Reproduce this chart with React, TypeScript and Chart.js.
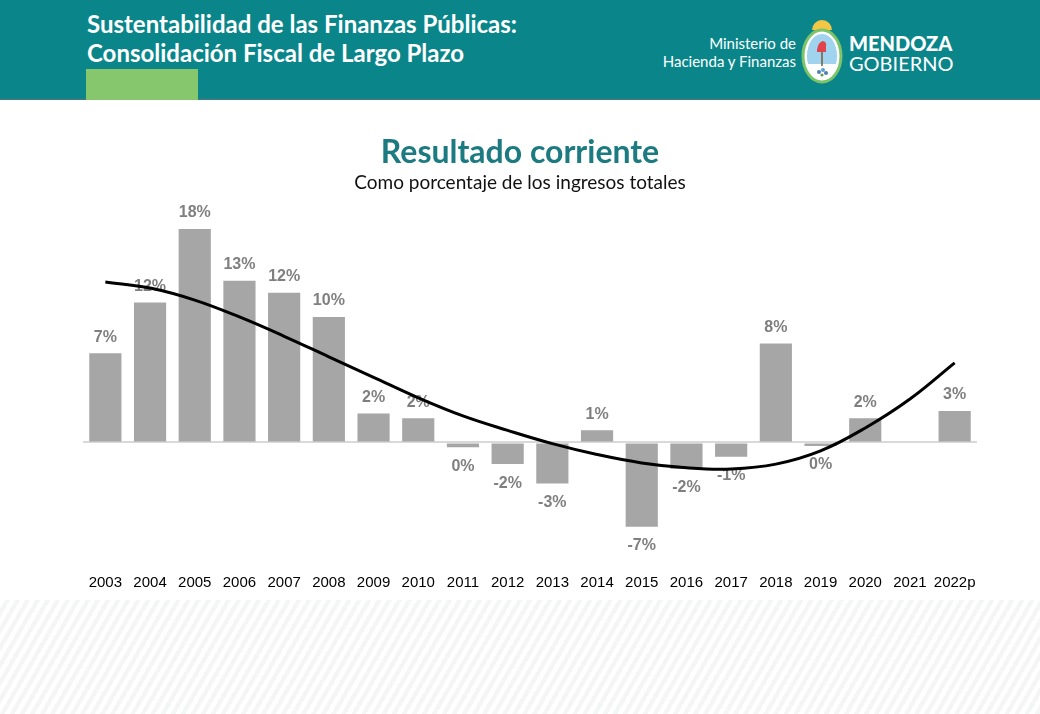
import React, { useEffect, useRef } from "react";
import { Chart, registerables } from "chart.js";

Chart.register(...registerables);

const years = ["2003","2004","2005","2006","2007","2008","2009","2010","2011","2012","2013","2014","2015","2016","2017","2018","2019","2020","2021","2022p"];
const resultado: (number | null)[] = [7.4, 11.6, 17.7, 13.4, 12.4, 10.4, 2.4, 2.0, -0.4, -1.8, -3.4, 1.0, -7.0, -2.2, -1.2, 8.2, -0.3, 2.0, null, 2.6];
const tendencia: number[] = [13.3, 12.8, 11.8, 10.4, 8.8, 7.1, 5.4, 3.7, 2.2, 1.0, -0.1, -1.0, -1.7, -2.1, -2.2, -1.8, -0.7, 1.2, 3.6, 6.6];

const chartTitle = "Resultado corriente";
const chartSubtitle = "Como porcentaje de los ingresos totales";

const labelPlugin = {
  id: "barValueLabels",
  beforeDatasetsDraw(chart: any) {
    const ctx = chart.ctx;
    const meta = chart.getDatasetMeta(0);
    const data = chart.data.datasets[0].data as (number | null)[];
    ctx.save();
    ctx.font = "bold 16px 'Liberation Sans', Arial, sans-serif";
    ctx.fillStyle = "#7f7f7f";
    ctx.textAlign = "center";
    ctx.textBaseline = "middle";
    meta.data.forEach((el: any, i: number) => {
      const v = data[i];
      if (v === null || v === undefined) return;
      const r = Math.round(v);
      const txt = String(r === 0 ? 0 : r) + "%";
      const base = el.base;
      if (v >= 0) {
        ctx.fillText(txt, el.x, Math.min(el.y, base) - 16);
      } else {
        ctx.fillText(txt, el.x, Math.max(el.y, base) + 19);
      }
    });
    ctx.restore();
  },
};

function ChartCanvas() {
  const ref = useRef<HTMLCanvasElement | null>(null);
  useEffect(() => {
    if (!ref.current) return;
    const chart = new Chart(ref.current, {
      type: "bar",
      data: {
        labels: years,
        datasets: [
          {
            type: "bar",
            data: resultado as any,
            backgroundColor: "#a6a6a6",
            barPercentage: 0.72,
            categoryPercentage: 1,
            order: 2,
          },
          {
            type: "line",
            data: tendencia,
            borderColor: "#000000",
            borderWidth: 3,
            pointRadius: 0,
            tension: 0.4,
            fill: false,
            order: 1,
          } as any,
        ],
      },
      options: {
        responsive: false,
        animation: false,
        layout: { padding: { left: 0, right: 0, top: 0, bottom: 5 } },
        plugins: {
          legend: { display: false },
          tooltip: { enabled: false },
          title: {
            display: true,
            text: chartTitle,
            color: "#1b7b80",
            font: { family: "Lato, 'Open Sans', sans-serif", size: 32, weight: "bold" },
            padding: { top: 13, bottom: 0 },
          },
          subtitle: {
            display: true,
            text: chartSubtitle,
            color: "#111111",
            font: { family: "Lato, 'Open Sans', sans-serif", size: 19 },
            padding: { top: 0, bottom: 7 },
          },
        },
        scales: {
          x: {
            grid: { display: false },
            border: { display: false },
            ticks: {
              color: "#000000",
              font: { family: "'Liberation Sans', Arial, sans-serif", size: 15 },
              padding: 3,
              maxRotation: 0,
              autoSkip: false,
            },
          },
          y: {
            min: -10,
            max: 20,
            border: { display: false },
            grid: {
              drawTicks: false,
              lineWidth: 2,
              color: (c: any) => (c.tick && c.tick.value === 0 ? "#d9d9d9" : "rgba(0,0,0,0)"),
            },
            ticks: { display: false, stepSize: 5 },
            afterFit: (axis: any) => {
              axis.width = 83;
            },
          },
          yRight: {
            type: "linear",
            position: "right",
            min: -10,
            max: 20,
            border: { display: false },
            grid: { display: false },
            ticks: { display: false },
            afterFit: (axis: any) => {
              axis.width = 63;
            },
          },
        },
      } as any,
      plugins: [labelPlugin],
    });
    return () => chart.destroy();
  }, []);
  return <canvas ref={ref} width={1040} height={480} style={{ display: "block" }} />;
}

function Emblem() {
  return (
    <svg width="48" height="64" viewBox="0 0 48 64" style={{ position: "absolute", left: 798, top: 20 }}>
      <path d="M14 10 A10 10 0 0 1 34 10 Z" fill="#f3c646" />
      <ellipse cx="24" cy="36" rx="19" ry="26" fill="#ffffff" stroke="#7cc46a" strokeWidth="3" />
      <clipPath id="emb">
        <ellipse cx="24" cy="36" rx="15.5" ry="22.5" />
      </clipPath>
      <g clipPath="url(#emb)">
        <rect x="0" y="10" width="48" height="34" fill="#9fd3ee" />
        <rect x="0" y="44" width="48" height="20" fill="#ffffff" />
      </g>
      <ellipse cx="24" cy="36" rx="15.5" ry="22.5" fill="none" stroke="#ffffff" strokeWidth="1" />
      <path d="M19 30 Q20 22 25 21 Q29 22 28 26 L28 32 L19 32 Z" fill="#e2424c" />
      <line x1="24" y1="32" x2="24" y2="46" stroke="#7a5a3a" strokeWidth="1.5" />
      <circle cx="21" cy="52" r="2" fill="#4f7fb8" />
      <circle cx="25" cy="50" r="2" fill="#5aa0d0" />
      <circle cx="28" cy="53" r="2" fill="#4f7fb8" />
      <circle cx="24" cy="55" r="1.6" fill="#6a9a5a" />
    </svg>
  );
}

export default function App() {
  const lato = "Lato, 'Open Sans', sans-serif";
  return (
    <div style={{ position: "absolute", left: 0, top: 0, width: 1040, height: 714, overflow: "hidden", background: "#ffffff" }}>
      <div style={{ position: "absolute", left: 0, top: 0, width: 1040, height: 100, background: "#0a868b", borderBottom: "2px solid #2f7d80", boxSizing: "border-box" }} />
      <div style={{ position: "absolute", left: 86, top: 69, width: 112, height: 31, background: "#86c66d" }} />
      <div style={{ position: "absolute", left: 87, top: 9, color: "#ffffff", fontFamily: lato, fontWeight: 700, fontSize: 24, lineHeight: "29px", whiteSpace: "nowrap" }}>
        Sustentabilidad de las Finanzas Públicas:
        <br />
        Consolidación Fiscal de Largo Plazo
      </div>
      <div style={{ position: "absolute", right: 1040 - 796, top: 34, color: "#ffffff", fontFamily: lato, fontSize: 15, lineHeight: "18px", textAlign: "right", whiteSpace: "nowrap" }}>
        Ministerio de
        <br />
        Hacienda y Finanzas
      </div>
      <Emblem />
      <div style={{ position: "absolute", left: 849, top: 33, color: "#ffffff", fontFamily: lato, fontSize: 20, lineHeight: "20px", whiteSpace: "nowrap" }}>
        <div style={{ fontWeight: 900 }}>MENDOZA</div>
        <div style={{ fontWeight: 400 }}>GOBIERNO</div>
      </div>
      <div
        style={{
          position: "absolute",
          left: 0,
          top: 600,
          width: 1040,
          height: 114,
          background: "repeating-linear-gradient(120deg, #ffffff 0px, #ffffff 4.5px, #f4f5f5 4.5px, #f4f5f5 8.7px)",
        }}
      />
      <div style={{ position: "absolute", left: 0, top: 120, width: 1040, height: 480 }}>
        <ChartCanvas />
      </div>
    </div>
  );
}
